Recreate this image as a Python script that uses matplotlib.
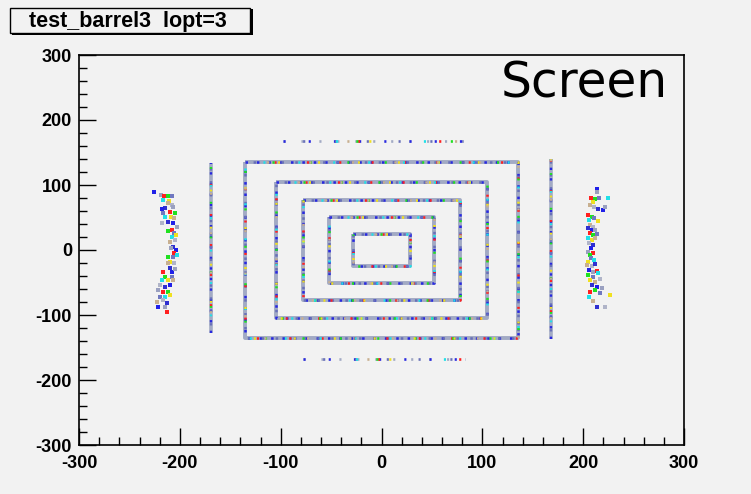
import matplotlib
matplotlib.use("Agg")
import matplotlib.pyplot as plt
from matplotlib.patches import Rectangle
from matplotlib.ticker import MultipleLocator

# ---------------- data ----------------
title_text = "test_barrel3  lopt=3"
label_text = "Screen"
x_ticks = [-300, -200, -100, 0, 100, 200, 300]
y_ticks = [-300, -200, -100, 0, 100, 200, 300]

rect_half_w = [28, 52, 78, 105, 135]
rect_half_h = [25, 51, 77, 105, 135]

bar_x = [-169, 168]
bar_ylo = [-128, -137]
bar_yhi = [134, 140]

row_y = [168, -167]
row_xlo = [-98, -78]
row_xhi = [81, 83]

left_blob_x = [-225.5, -218.7, -215.4, -212.1, -207.5, -216.4, -210.8, -211.4, -208.1, -214.7,
               -218.0, -206.5, -209.8, -204.8, -216.4, -214.7, -208.8, -205.5, -218.0, -211.4,
               -206.5, -203.2, -208.1, -211.4, -205.5, -208.1, -204.2, -209.8, -204.8, -206.5,
               -204.2, -208.8, -205.5, -211.4, -206.5, -203.2, -209.8, -212.1, -205.5, -209.8,
               -208.1, -204.8, -216.4, -214.7, -208.1, -218.0, -211.4, -206.5, -219.7, -214.7,
               -209.8, -221.3, -216.4, -211.4, -219.7, -214.7, -209.8, -222.9, -216.4, -213.1,
               -221.3, -214.7, -213.1]
left_blob_y = [88.7, 84.6, 83.1, 83.6, 83.1, 76.9, 75.9, 71.8, 69.2, 64.1,
               62.6, 66.7, 59.0, 56.4, 56.4, 51.3, 51.3, 48.7, 42.1, 43.6,
               41.0, 35.9, 30.8, 29.7, 26.7, 20.5, 23.1, 12.8, 15.4, 5.1,
               0.0, 2.6, -5.1, -10.3, -11.3, -7.7, -17.9, -20.5, -20.5, -28.2,
               -33.3, -29.7, -33.3, -41.0, -41.0, -46.2, -46.2, -46.2, -53.8, -56.4,
               -53.8, -61.5, -64.1, -64.1, -71.8, -71.8, -69.2, -79.5, -76.9, -82.1,
               -87.2, -87.2, -94.9]

right_blob_x = [213.4, 214.1, 207.5, 211.8, 216.1, 225.0, 210.1, 206.8, 210.8, 215.1,
                220.0, 221.7, 205.1, 208.4, 210.8, 206.1, 215.1, 206.8, 210.1, 205.1,
                208.4, 211.8, 206.8, 210.1, 213.4, 205.1, 208.4, 211.8, 206.1, 209.4,
                207.5, 205.1, 210.1, 206.8, 207.5, 210.8, 205.1, 203.5, 208.4, 211.8,
                206.1, 210.1, 213.4, 205.1, 209.4, 215.1, 206.8, 211.8, 216.7, 208.4,
                213.4, 218.4, 206.8, 211.8, 216.7, 206.1, 226.7, 210.1, 221.7, 213.4]
right_blob_y = [93.9, 88.7, 80.5, 78.5, 80.5, 80.5, 74.4, 69.2, 66.7, 63.1,
                61.5, 66.7, 53.8, 51.3, 48.7, 46.2, 44.6, 38.5, 35.9, 33.3,
                30.8, 30.8, 25.6, 23.1, 24.1, 18.0, 15.4, 19.0, 10.3, 7.7,
                2.6, -2.5, -5.1, -7.7, -12.8, -15.4, -17.9, -23.1, -24.1, -22.0,
                -30.8, -33.3, -32.3, -38.5, -41.0, -35.9, -46.2, -48.7, -44.6, -53.8,
                -56.4, -59.0, -64.1, -61.5, -66.7, -71.8, -69.2, -78.4, -87.2, -87.2]

# ---------------- style ----------------
BG = "#f2f2f2"
BASE = "#a2aac4"
SPECKS = [("#2828e0", (1.0, 3.5), 0.0), ("#6870b8", (1.0, 4.5), 2.3),
          ("#ff2020", (0.8, 12.0), 1.3), ("#20e020", (0.8, 14.0), 4.1),
          ("#20e0e8", (0.8, 13.0), 6.7), ("#f0e020", (0.8, 15.0), 2.9),
          ("#c8b090", (0.8, 16.0), 8.3)]

plt.rcParams['font.family'] = ['Liberation Sans', 'DejaVu Sans']
plt.rcParams['axes.unicode_minus'] = False

fig = plt.figure(figsize=(7.51, 4.94), dpi=100, facecolor=BG)
ax = fig.add_axes([79/751, 1-445/494, 605/751, 390/494])
ax.set_facecolor(BG)


def speckled_line(xs, ys, lw=2.8):
    ax.plot(xs, ys, color=BASE, lw=lw, solid_capstyle='butt', zorder=2)
    for col, dash, off in SPECKS:
        ax.plot(xs, ys, color=col, lw=lw * 0.65, linestyle=(off, dash),
                zorder=3, dash_capstyle='butt')


for hw, hh in zip(rect_half_w, rect_half_h):
    xs = [-hw, hw, hw, -hw, -hw]
    ys = [hh, hh, -hh, -hh, hh]
    speckled_line(xs, ys)

for bx, ylo, yhi in zip(bar_x, bar_ylo, bar_yhi):
    speckled_line([bx, bx], [ylo, yhi], lw=2.6)

for ry, xlo, xhi in zip(row_y, row_xlo, row_xhi):
    ax.plot([xlo, xhi], [ry, ry], color=BASE, lw=1.9,
            linestyle=(0, (0.8, 6)), zorder=2)
    for col, dash, off in SPECKS:
        ax.plot([xlo, xhi], [ry, ry], color=col, lw=1.9,
                linestyle=(off * 2, (0.8, dash[1] * 2.5)), zorder=3)

blob_cols = ["#2020e8", "#9aa0c0", "#ff2020", "#20e020", "#7078c0",
             "#20e0e8", "#f0e020", "#c8b090", "#b0b4c8", "#3030d0"]
for bx, by in [(left_blob_x, left_blob_y), (right_blob_x, right_blob_y)]:
    cols = [blob_cols[i % len(blob_cols)] for i in range(len(bx))]
    ax.scatter(bx, by, c=cols, s=8, marker='s', linewidths=0, zorder=3)

ax.set_xlim(-300, 300)
ax.set_ylim(-300, 300)
ax.set_xticks(x_ticks)
ax.set_yticks(y_ticks)
ax.xaxis.set_minor_locator(MultipleLocator(20))
ax.yaxis.set_minor_locator(MultipleLocator(20))
ax.tick_params(which='both', direction='in', top=False, right=False,
               color='black', width=1)
ax.tick_params(which='major', length=12, labelsize=13)
ax.tick_params(which='minor', length=6)
ax.tick_params(axis='x', which='major', pad=7)
ax.tick_params(axis='y', which='major', pad=5)
for lab in ax.get_xticklabels() + ax.get_yticklabels():
    lab.set_fontweight('bold')
for s in ax.spines.values():
    s.set_linewidth(1.2)

ax.text((668 - 79) / 605, (445 - 97) / 390, label_text, transform=ax.transAxes,
        ha='right', va='baseline', fontsize=35, family='DejaVu Sans', color='black')

# title box with shadow (pixel coords -> figure fraction)
W, H = 751, 494
fig.patches.append(Rectangle((12/W, 1-35/H), 241/W, 26/H, transform=fig.transFigure,
                             facecolor='black', edgecolor='none', zorder=1))
fig.patches.append(Rectangle((10/W, 1-33/H), 240/W, 25/H, transform=fig.transFigure,
                             facecolor=BG, edgecolor='black', lw=1, zorder=2))
fig.text(128/W, 1-21/H, title_text, ha='center', va='center', fontsize=15.5,
         fontweight='bold', zorder=3)

fig.savefig("out.png", dpi=100, facecolor=BG)
